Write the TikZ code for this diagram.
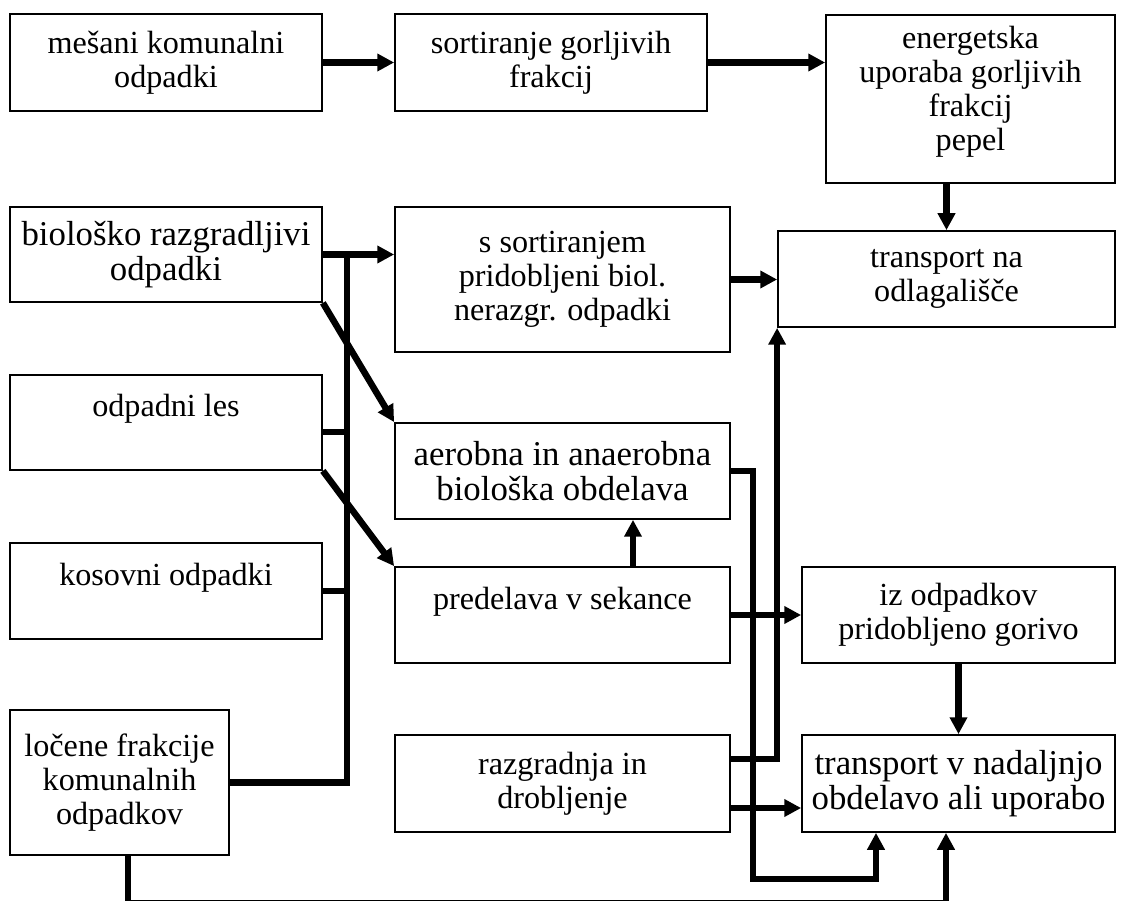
\documentclass[tikz,border=0pt]{standalone}
\usepackage{fontspec}
\setmainfont{Liberation Serif}
\usetikzlibrary{arrows.meta}

\tikzset{
  box/.style={draw, line width=1pt, align=center, inner sep=0pt},
  bigtext/.style={font=\fontsize{19.8}{19.6}\selectfont},
  link/.style={line width=3.7pt},
  flow/.style={link, -{Triangle[length=9.6pt,width=9.6pt]}}
}

\begin{document}
\begin{tikzpicture}[every node/.style={font=\fontsize{18.3}{19.4}\selectfont}]
\useasboundingbox (0,0) rectangle (22.54,-18.02);
% left column
\node[box, minimum width=6.24cm, minimum height=1.94cm] (mko) at (3.32,-1.25) {mešani komunalni\\odpadki};
\node[box, bigtext, minimum width=6.24cm, minimum height=1.90cm] (bro) at (3.32,-5.09) {biološko razgradljivi\\odpadki};
\node[box, minimum width=6.24cm, minimum height=1.90cm] (ol) at (3.32,-8.45) {odpadni les\\~};
\node[box, minimum width=6.24cm, minimum height=1.92cm] (ko) at (3.32,-11.82) {kosovni odpadki\\~};
\node[box, minimum width=4.38cm, minimum height=2.90cm] (lfk) at (2.39,-15.65) {ločene frakcije\\komunalnih\\odpadkov};
% middle column
\node[box, minimum width=6.24cm, minimum height=1.94cm] (sgf) at (11.02,-1.25) {sortiranje gorljivih\\frakcij};
\node[box, minimum width=6.70cm, minimum height=2.90cm] (ssp) at (11.25,-5.59) {s sortiranjem\\pridobljeni biol.\\nerazgr. odpadki};
\node[box, bigtext, minimum width=6.70cm, minimum height=1.92cm] (aao) at (11.25,-9.42) {aerobna in anaerobna\\biološka obdelava};
\node[box, minimum width=6.70cm, minimum height=1.92cm] (pvs) at (11.25,-12.30) {predelava v sekance\\~};
\node[box, minimum width=6.70cm, minimum height=1.94cm] (rid) at (11.25,-15.67) {razgradnja in\\drobljenje};
% right column
\node[box, text depth=12pt, minimum width=5.78cm, minimum height=3.36cm] (eug) at (19.41,-1.98) {energetska\\uporaba gorljivih\\frakcij\\pepel};
\node[box, minimum width=6.74cm, minimum height=1.92cm] (tno) at (18.93,-5.58) {transport na\\odlagališče};
\node[box, minimum width=6.26cm, minimum height=1.92cm] (ipg) at (19.17,-12.30) {iz odpadkov\\pridobljeno gorivo};
\node[box, bigtext, minimum width=6.26cm, minimum height=1.94cm] (tnu) at (19.17,-15.67) {transport v nadaljnjo\\obdelavo ali uporabo};
% helper points
\coordinate (bus) at (6.94,0);
\coordinate (olj) at (6.94,-8.64);
\coordinate (up) at (12.66,0);
\coordinate (ridhi) at (0,-15.18);
\coordinate (ridlo) at (0,-16.16);
\coordinate (loopl) at (15.06,-17.58);
\coordinate (loopr) at (17.52,-17.58);
\coordinate (botl) at (2.56,-18.06);
\coordinate (botr) at (18.92,-18.06);
% connectors
\draw[flow] (mko) -- (sgf);
\draw[flow] (sgf.east) -- (sgf.east -| eug.west);
\draw[flow] (eug.south -| tno.north) -- (tno.north);
\draw[flow] (bro.east) -- (bro.east -| ssp.west);
\draw[link] (bro.east -| bus) -- (lfk.east -| bus) -- (lfk.east);
\draw[link] (olj -| ol.east) -- (olj);
\draw[link] (ko.east) -- (ko.east -| bus);
\draw[flow] (bro.south east) -- (aao.north west);
\draw[flow] (ol.south east) -- (pvs.north west);
\draw[flow] (ssp.east) -- (ssp.east -| tno.west);
\draw[flow] (pvs.north -| up) -- (aao.south -| up);
\draw[flow] (pvs) -- (ipg);
\draw[flow] (ipg) -- (tnu);
\draw[flow] (ridhi -| rid.east) -| (tno.south west);
\draw[flow] (ridlo -| rid.east) -- (ridlo -| tnu.west);
\draw[flow] (aao.east) -| (loopl) -- (loopr) -- (loopr |- tnu.south);
\draw[flow] (lfk.south -| botl) -- (botl) -- (botr) -- (botr |- tnu.south);
\end{tikzpicture}
\end{document}
